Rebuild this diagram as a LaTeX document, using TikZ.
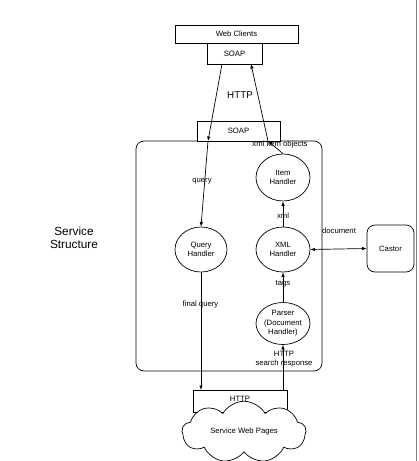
\documentclass[tikz,border=0pt]{standalone}
\usepackage{fontspec}
\setmainfont{Liberation Sans}
\usetikzlibrary{shapes.geometric,shapes.symbols,arrows.meta}
\begin{document}
\begin{tikzpicture}[x=1pt,y=-1pt,
  every node/.style={font=\fontsize{7.7}{9.5}\selectfont, inner sep=0pt},
  box/.style={draw, line width=0.7pt, fill=white, rectangle},
  handler/.style={draw, line width=0.7pt, ellipse, align=center, minimum width=54pt},
  lbl/.style={align=center},
  conn/.style={line width=0.7pt, -{Latex[length=4.5pt,width=3.5pt]}},
  bconn/.style={line width=0.7pt, {Latex[length=4.5pt,width=3.5pt]}-{Latex[length=4.5pt,width=3.5pt]}}]
\useasboundingbox (0,0) rectangle (419,461);
% right border line
\draw[gray, line width=0.9pt] (416.5,0) -- (416.5,461);
% container
\node[draw, line width=0.7pt, rounded corners=8pt, minimum width=186pt, minimum height=230pt] (cont) at (229,256) {};
\node[box, minimum width=83pt, minimum height=20pt] (csoap) at (238.5,131) {SOAP};
% top boxes
\node[box, minimum width=123pt, minimum height=18pt] (web) at (236.5,34) {Web Clients};
\node[box, minimum width=55pt, minimum height=21pt] (tsoap) at (234.5,53.5) {SOAP};
\node[font=\fontsize{9.8}{11}\selectfont] (http) at (240,95) {HTTP};
% handlers
\node[handler, minimum height=47pt] (item) at (283,177.5) {Item\\Handler};
\node[handler, minimum height=45pt] (xml) at (283,249.5) {XML\\Handler};
\node[handler, minimum height=45pt, minimum width=52pt] (query) at (201,249.5) {Query\\Handler};
\node[handler, minimum height=42pt] (parser) at (283,323.5) {Parser\\(Document\\Handler)};
% castor
\node[draw, line width=0.7pt, rounded corners=8pt, minimum width=47pt, minimum height=47pt] (castor) at (390.5,248.5) {Castor};
% bottom
\node[box, minimum width=94pt, minimum height=22pt] (hbox) at (240,401) {};
\node (hlabel) at (240,398.5) {HTTP};
\node[draw, line width=0.7pt, fill=white, cloud, cloud puffs=9, cloud puff arc=120, aspect=2.1, minimum width=124pt, minimum height=58pt] (cloud) at (244,432) {Service Web Pages};
% side label
\node[font=\fontsize{11.8}{13}\selectfont, align=center] (ss) at (74,237.5) {Service\\Structure};
% connectors
\coordinate (qin) at (208,141);
\coordinate (iout) at (268,141);
\coordinate (tsl) at (222,64);
\coordinate (tsr) at (251,64);
\draw[conn] (tsl) -- (qin);
\draw[conn] (qin) -- (query.north);
\draw[conn] (item.north) -- (iout);
\draw[conn] (iout) -- (tsr);
\draw[conn] (xml.north) -- (item.south);
\draw[conn] (parser.north) -- (xml.south);
\draw[bconn] (xml.east) -- (castor.west);
\coordinate (hq) at (201,390);
\coordinate (hp) at (283,390);
\draw[conn] (query.south) -- (hq);
\draw[conn] (hp) -- (parser.south);
% labels
\node (l1) at (280,145) {xml item objects};
\node (l2) at (202,181) {query};
\node (l3) at (283,216) {xml};
\node (l4) at (283,284) {tags};
\node (l5) at (339,231) {document};
\node (l6) at (200.5,305) {final query};
\node[lbl] (l7) at (284,359) {HTTP\\search response};
\end{tikzpicture}
\end{document}
